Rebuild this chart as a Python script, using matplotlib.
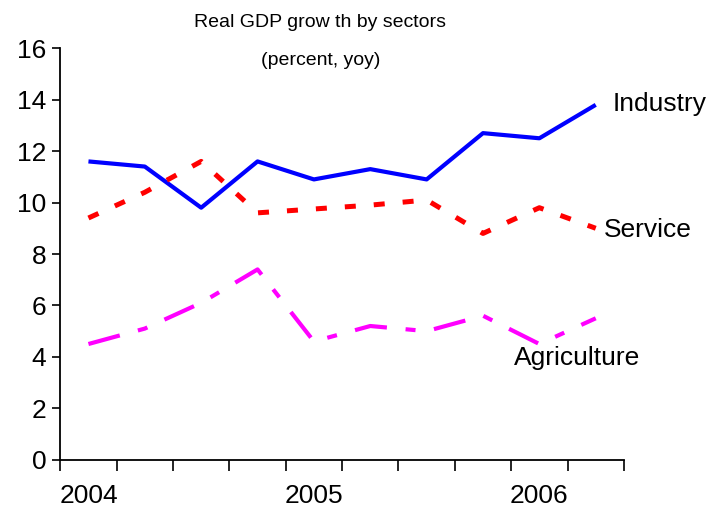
import numpy as np
import matplotlib
matplotlib.use('Agg')
import matplotlib.pyplot as plt

# Данные: квартальный рост ВВП по секторам, 2004Q1 - 2006Q2
quarters = ['2004Q1', '2004Q2', '2004Q3', '2004Q4',
            '2005Q1', '2005Q2', '2005Q3', '2005Q4',
            '2006Q1', '2006Q2']
industry = [11.6, 11.4, 9.8, 11.6, 10.9, 11.3, 10.9, 12.7, 12.5, 13.8]
service = [9.4, 10.4, 11.6, 9.6, 9.75, 9.9, 10.1, 8.8, 9.8, 9.0]
agriculture = [4.5, 5.1, 6.1, 7.4, 4.6, 5.2, 5.0, 5.6, 4.5, 5.5]
year_labels = ['2004', '2005', '2006']

plt.rcParams['font.family'] = ['Liberation Sans', 'DejaVu Sans']

fig = plt.figure(figsize=(7.09, 5.08), dpi=100)
ax = fig.add_axes([0.085, 0.095, 0.795, 0.81])

x = np.arange(len(quarters))
ax.plot(x, industry, color='#0000FF', lw=3, solid_capstyle='butt')
ax.plot(x, service, color='#FF0000', lw=3.6, linestyle=(0, (2.2, 3.6)))
ax.plot(x, agriculture, color='#FF00FF', lw=3, linestyle=(0, (7.8, 4.5, 2.4, 4.5)))

# Подписи рядов
ax.text(x[-1] + 0.3, industry[-1] + 0.05, 'Industry', fontsize=19, va='center', ha='left')
ax.text(x[-1] + 0.15, service[-1] - 0.05, 'Service', fontsize=19, va='center', ha='left')
ax.text(x[-1] - 1.45, agriculture[-1] - 1.55, 'Agriculture', fontsize=19, va='center', ha='left')

# Оси
ax.set_xlim(-0.5, len(quarters) - 0.5)
ax.set_ylim(0, 16)
ax.set_yticks(np.arange(0, 17, 2))
ax.tick_params(axis='y', labelsize=19, length=6, width=1.2, direction='out', pad=4)

ax.set_xticks(np.arange(-0.5, len(quarters), 1))
ax.set_xticklabels([])
ax.tick_params(axis='x', length=8, width=1.2, direction='out')
for i, lab in zip([0, 4, 8], year_labels):
    ax.text(i, -0.95, lab, fontsize=19, ha='center', va='top')

for s in ['top', 'right']:
    ax.spines[s].set_visible(False)
for s in ['left', 'bottom']:
    ax.spines[s].set_linewidth(1.3)

fig.text(0.452, 0.955, 'Real GDP grow th by sectors', fontsize=14, ha='center', va='center')
fig.text(0.452, 0.88, '(percent, yoy)', fontsize=14, ha='center', va='center')

plt.savefig('out.png', dpi=100)
